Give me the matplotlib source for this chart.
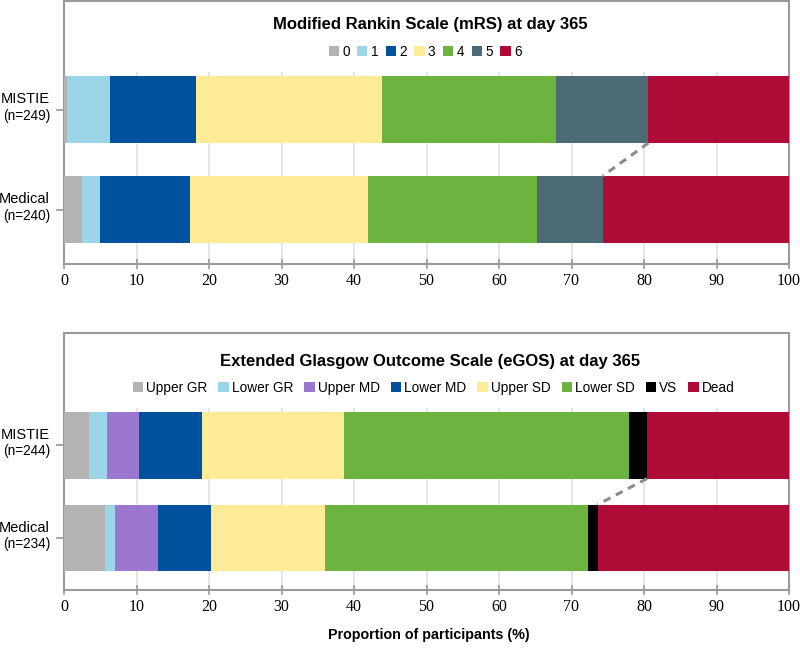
import numpy as np
import matplotlib
matplotlib.use("Agg")
import matplotlib.pyplot as plt
from matplotlib.patches import Patch

plt.rcParams["font.family"] = ["Liberation Sans", "DejaVu Sans"]

groups = ["MISTIE", "Medical"]

mrs_title = "Modified Rankin Scale (mRS) at day 365"
mrs_cats = ["0", "1", "2", "3", "4", "5", "6"]
mrs_n = [249, 240]
mrs_mistie = [0.4, 5.9, 11.9, 25.6, 24.1, 12.7, 19.4]
mrs_medical = [2.5, 2.4, 12.5, 24.5, 23.3, 9.1, 25.7]
mrs_colors = ["#b3b3b3", "#9dd5e8", "#00529c", "#feeb98", "#6db33f", "#4d6b75", "#b00a37"]

egos_title = "Extended Glasgow Outcome Scale (eGOS) at day 365"
egos_cats = ["Upper GR", "Lower GR", "Upper MD", "Lower MD", "Upper SD", "Lower SD", "VS", "Dead"]
egos_n = [244, 234]
egos_mistie = [3.4, 2.5, 4.4, 8.7, 19.6, 39.3, 2.5, 19.6]
egos_medical = [5.7, 1.3, 6.0, 7.3, 15.7, 36.3, 1.3, 26.4]
egos_colors = ["#b3b3b3", "#9dd5e8", "#9b77cf", "#00529c", "#feeb98", "#6db33f", "#000000", "#b00a37"]

FRAME = "#9a9a9a"


def draw_panel(ax, title, cats, colors, rows, ns, bar_h, ylim, grid_top,
               title_y, leg_y, leg_x, colspacing):
    data = np.array(rows)
    left = np.zeros(len(rows))
    ypos = np.arange(len(rows))
    for j, cat in enumerate(cats):
        ax.barh(ypos, data[:, j], left=left, height=bar_h, color=colors[j],
                linewidth=0, zorder=3)
        left += data[:, j]

    # dashed connector at the start of the last (death) category
    starts = data[:, :-1].sum(axis=1)
    ax.plot([starts[0], starts[1]], [ypos[0] + bar_h / 2, ypos[1] - bar_h / 2],
            color="#8a8a8a", ls=(0, (2.5, 2)), lw=2.2, zorder=4)

    ticks = np.arange(0, 101, 10)
    ax.vlines(ticks[1:-1], grid_top, ylim[0], color="#e3e3e3", lw=1.3, zorder=1)
    ax.set_xlim(0, 100)
    ax.set_ylim(*ylim)
    ax.set_xticks(ticks)
    ax.set_yticks(ypos)
    ax.set_yticklabels([])
    for lab in ax.get_xticklabels():
        lab.set_fontfamily("Liberation Serif")
        lab.set_fontsize(11.5)
    ax.tick_params(axis="x", direction="inout", length=7, color=FRAME, width=1.2, pad=3)
    ax.tick_params(axis="y", direction="out", length=6, color=FRAME, width=1.2)
    for s in ax.spines.values():
        s.set_color(FRAME)
        s.set_linewidth(1.5)

    for y, g, n in zip(ypos, groups, ns):
        ax.annotate(g, (0, y), xycoords=("axes fraction", "data"), xytext=(-10, 7.5),
                    textcoords="offset points", ha="right", va="center", fontsize=10.5)
        ax.annotate(f"(n={n})", (0, y), xycoords=("axes fraction", "data"), xytext=(-10, -4.5),
                    textcoords="offset points", ha="right", va="center", fontsize=9.8)

    ax.text(0.505, title_y, title, transform=ax.transAxes, ha="center", va="center",
            fontsize=12, fontweight="bold")
    handles = [Patch(facecolor=c, edgecolor="none") for c in colors]
    ax.legend(handles, cats, loc="center", bbox_to_anchor=(leg_x, leg_y), ncol=len(cats),
              frameon=False, fontsize=9.8, handlelength=0.75, handleheight=0.75,
              handletextpad=0.25, columnspacing=colspacing, borderpad=0)


fig = plt.figure(figsize=(8, 6.5), dpi=100)
ax1 = fig.add_axes([0.08, 1 - 264 / 650, 0.90625, 263 / 650])
ax2 = fig.add_axes([0.08, 1 - 590 / 650, 0.90625, 257 / 650])

draw_panel(ax1, mrs_title, mrs_cats, mrs_colors, [mrs_mistie, mrs_medical], mrs_n,
           bar_h=0.67, ylim=(1.545, -1.085), grid_top=-0.375,
           title_y=0.911, leg_y=0.806, leg_x=0.498, colspacing=0.55)
draw_panel(ax2, egos_title, egos_cats, egos_colors, [egos_mistie, egos_medical], egos_n,
           bar_h=0.72, ylim=(1.56, -1.209), grid_top=-0.40,
           title_y=0.888, leg_y=0.787, leg_x=0.51, colspacing=0.8)

fig.text(0.536, 1 - 635 / 650, "Proportion of participants (%)", ha="center", va="center",
         fontsize=10.3, fontweight="bold")

fig.savefig("out.png", dpi=100)
